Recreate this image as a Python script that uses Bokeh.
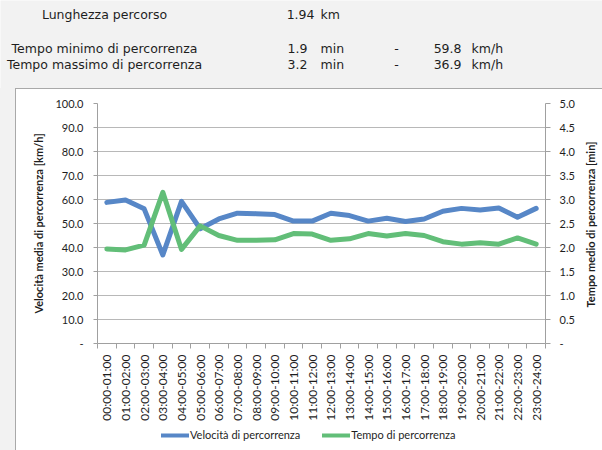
import math
from bokeh.plotting import figure
from bokeh.models import (Range1d, LinearAxis, FixedTicker, NumeralTickFormatter,
                          Legend, LegendItem, Label, Div, ColumnDataSource)
from bokeh.layouts import column, row
from bokeh.embed import file_html
from bokeh.resources import INLINE

# ---------------- data ----------------
hours = ["00:00-01:00", "01:00-02:00", "02:00-03:00", "03:00-04:00", "04:00-05:00",
         "05:00-06:00", "06:00-07:00", "07:00-08:00", "08:00-09:00", "09:00-10:00",
         "10:00-11:00", "11:00-12:00", "12:00-13:00", "13:00-14:00", "14:00-15:00",
         "15:00-16:00", "16:00-17:00", "17:00-18:00", "18:00-19:00", "19:00-20:00",
         "20:00-21:00", "21:00-22:00", "22:00-23:00", "23:00-24:00"]
speed_kmh = [58.8, 59.8, 56.1, 36.9, 59.2, 47.8, 51.9, 54.3, 54.1, 53.7, 51.0, 51.0,
             54.3, 53.3, 51.0, 52.2, 50.8, 51.9, 55.1, 56.3, 55.6, 56.5, 52.6, 56.3]
time_min = [1.97, 1.95, 2.05, 3.15, 1.96, 2.45, 2.25, 2.15, 2.15, 2.16, 2.29, 2.28,
            2.15, 2.18, 2.29, 2.24, 2.29, 2.25, 2.12, 2.07, 2.10, 2.07, 2.20, 2.07]
left_ticks = [0, 10, 20, 30, 40, 50, 60, 70, 80, 90, 100]
right_ticks = [0, 0.5, 1.0, 1.5, 2.0, 2.5, 3.0, 3.5, 4.0, 4.5, 5.0]

route_length = "1.94"
t_min, v_at_tmin = "1.9", "59.8"
t_max, v_at_tmax = "3.2", "36.9"

series_names = ["Velocità di percorrenza", "Tempo di percorrenza"]
left_title = "Velocità media di percorrenza [km/h]"
right_title = "Tempo medio di percorrenza [min]"

GRAY_BG = "#f2f2f2"
BLUE = "#5787c7"
GREEN = "#62be78"
FONT = "Lato"
HFONT = "DejaVu Sans"
TXT = "#1e1e1e"
AX = "#a0a0a0"

def bare_fig(w, h, bg):
    f = figure(width=w, height=h, x_axis_type=None, y_axis_type=None,
               toolbar_location=None, output_backend="svg", min_border=0,
               border_fill_color=bg, background_fill_color=bg, outline_line_color=None)
    f.grid.visible = False
    return f

# ---------------- header ----------------
hf = bare_fig(602, 88, GRAY_BG)
hf.x_range = Range1d(0, 602)
hf.y_range = Range1d(0, 88)

def hlabel(x, y, text, align):
    hf.add_layout(Label(x=x, y=y, x_units="screen", y_units="screen", text=text,
                        text_align=align, text_baseline="middle",
                        text_font=HFONT, text_font_size="12.5px", text_color=TXT))

rows = [
    (74, "Lunghezza percorso", route_length, "km", None, None),
    (40.5, "Tempo minimo di percorrenza", t_min, "min", v_at_tmin, "km/h"),
    (24, "Tempo massimo di percorrenza", t_max, "min", v_at_tmax, "km/h"),
]
for i, (yy, lab, num, unit, v, vu) in enumerate(rows):
    hlabel(104, yy, lab, "center")
    if i == 0:
        hlabel(314, yy, num, "right")
        hlabel(320, yy, unit, "left")
    else:
        hlabel(307, yy, num, "right")
        hlabel(320, yy, unit, "left")
        hlabel(396, yy, "-", "center")
        hlabel(461, yy, v, "right")
        hlabel(471, yy, vu, "left")

# ---------------- chart ----------------
n = len(hours)
centers = [i + 0.5 for i in range(n)]
bounds = list(range(n + 1))
src = ColumnDataSource(dict(x=centers, v=speed_kmh, t=time_min))

p = figure(width=565, height=334, toolbar_location=None, output_backend="svg",
           x_range=Range1d(0, n), y_range=Range1d(0, 100),
           min_border_left=81, min_border_right=36, min_border_top=14, min_border_bottom=78,
           border_fill_color="white", background_fill_color="white", outline_line_color=None)
p.extra_y_ranges = {"t": Range1d(0, 5)}

# x axis
xa = p.xaxis[0]
xa.ticker = FixedTicker(ticks=centers, minor_ticks=bounds)
xa.major_label_overrides = {c: h for c, h in zip(centers, hours)}
xa.major_label_orientation = math.pi / 2
xa.major_tick_out = 0
xa.major_tick_in = 0
xa.minor_tick_out = 5
xa.minor_tick_in = 0
xa.minor_tick_line_color = AX
xa.axis_line_color = AX
xa.major_label_standoff = 6
xa.major_label_text_font = FONT
xa.major_label_text_font_size = "12px"
xa.major_label_text_color = TXT

# left axis
ya = p.yaxis[0]
ya.ticker = FixedTicker(ticks=left_ticks)
ya.formatter = NumeralTickFormatter(format="0.0")
ya.major_label_overrides = {0: "-"}
ya.axis_label = left_title
ya.axis_label_text_font = FONT
ya.axis_label_text_font_style = "bold"
ya.axis_label_text_font_size = "11px"
ya.axis_label_text_color = TXT
ya.axis_label_standoff = 7
ya.major_label_text_font = FONT
ya.major_label_text_font_size = "11px"
ya.major_label_text_color = TXT
ya.major_label_standoff = 10
ya.major_tick_out = 4
ya.major_tick_in = 0
ya.minor_tick_line_color = None
ya.major_tick_line_color = AX
ya.axis_line_color = AX

# right axis (title drawn in a separate strip to read bottom-to-top)
ra = LinearAxis(y_range_name="t", ticker=FixedTicker(ticks=right_ticks),
                formatter=NumeralTickFormatter(format="0.0"))
ra.major_label_overrides = {0: "-"}
ra.major_label_text_font = FONT
ra.major_label_text_font_size = "11px"
ra.major_label_text_color = TXT
ra.major_label_standoff = 9
ra.major_tick_out = 5
ra.major_tick_in = 0
ra.minor_tick_line_color = None
ra.major_tick_line_color = AX
ra.axis_line_color = AX
p.add_layout(ra, "right")

p.xgrid.visible = False
p.ygrid.grid_line_color = "#b8b8b8"

line_kw = dict(line_width=5, line_join="round", line_cap="round")
p.line("x", "v", source=src, line_color=BLUE, **line_kw)
p.line("x", "t", source=src, y_range_name="t", line_color=GREEN, **line_kw)

# ---------------- legend strip ----------------
lf = bare_fig(565, 28, "white")
lf.x_range = Range1d(0, n)
lf.y_range = Range1d(1000, 1001)  # series lie outside this view; used only for legend
l1 = lf.line("x", "v", source=src, line_color=BLUE, line_width=4, line_cap="round")
l2 = lf.line("x", "t", source=src, line_color=GREEN, line_width=4, line_cap="round")
leg = Legend(items=[LegendItem(label=series_names[0], renderers=[l1]),
                    LegendItem(label=series_names[1], renderers=[l2])],
             orientation="horizontal", location=(64, 10),
             border_line_color=None, background_fill_alpha=0, padding=0, margin=0,
             spacing=22, label_standoff=1, glyph_width=28, glyph_height=12, label_height=12,
             label_text_font=FONT, label_text_font_size="11px", label_text_color=TXT)
lf.add_layout(leg)

# ---------------- right title strip ----------------
rf = bare_fig(22, 362, "white")
rf.x_range = Range1d(0, 1)
rf.y_range = Range1d(0, 1)
rf.add_layout(Label(x=9, y=227, x_units="screen", y_units="screen", text=right_title,
                    angle=math.pi / 2, text_align="center", text_baseline="middle",
                    text_font=FONT, text_font_style="bold", text_font_size="11px",
                    text_color=TXT))

box = row(column(p, lf, spacing=0), rf, spacing=0,
          styles={"border-top": "1px solid #a9a9a9", "border-left": "1px solid #a9a9a9"})
strip = Div(width=15, height=362, margin=0, styles={"background-color": GRAY_BG})
layout = column(hf, row(strip, box, spacing=0), spacing=0)

open("out.html", "w").write(file_html(layout, INLINE))
